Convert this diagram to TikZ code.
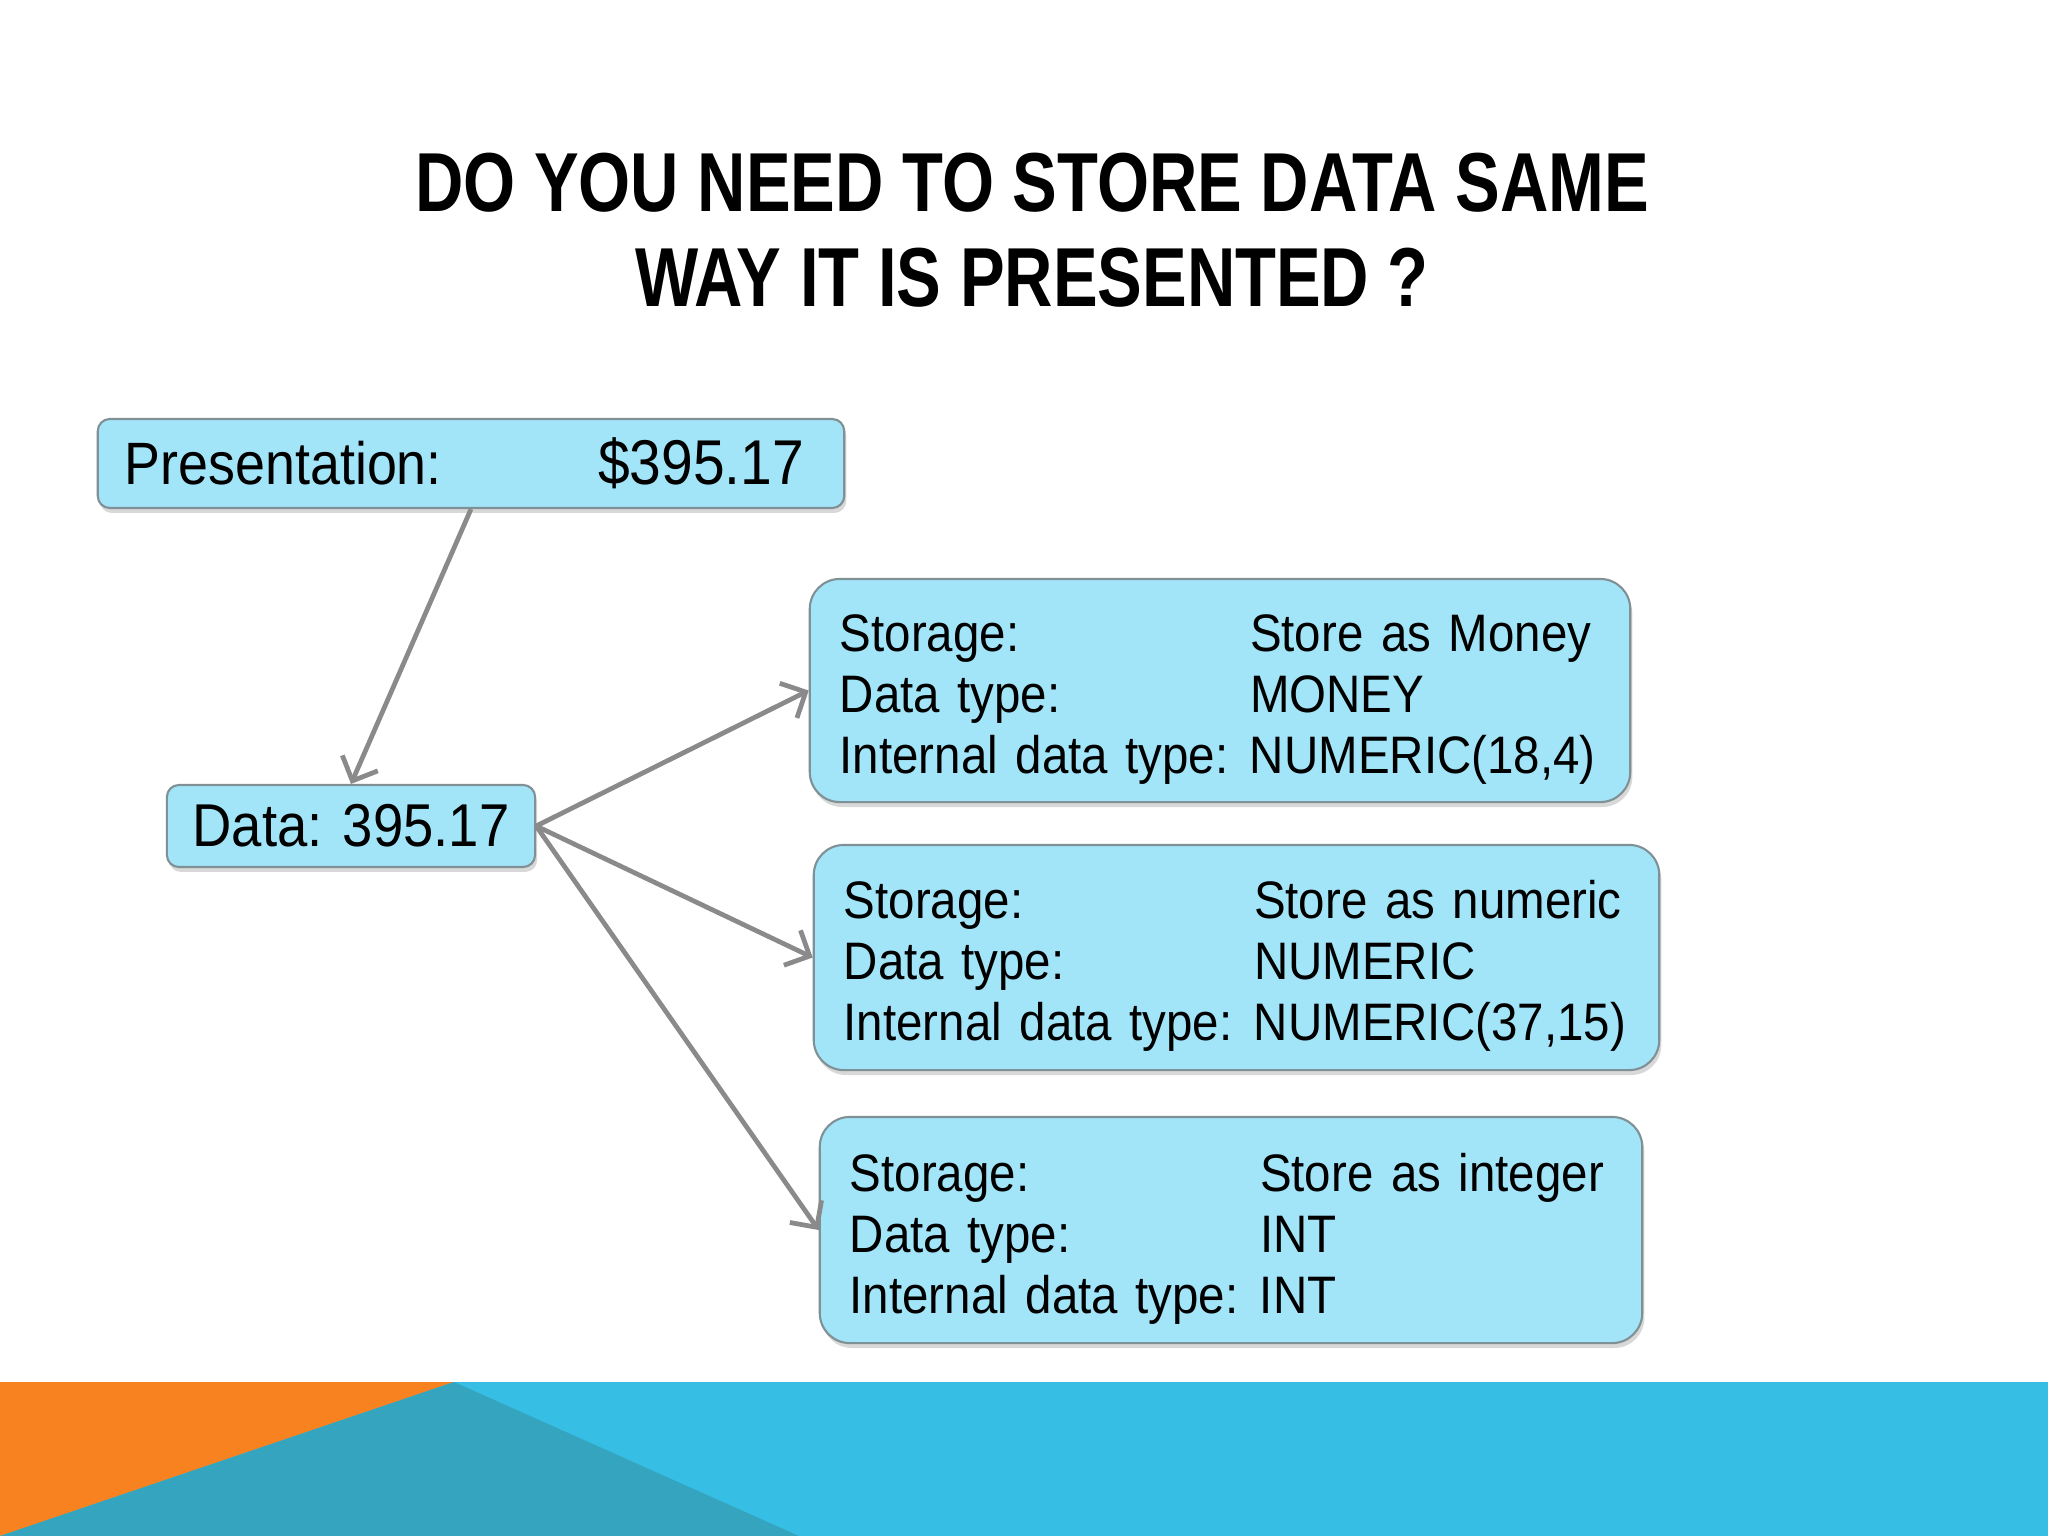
\documentclass[tikz,border=0pt]{standalone}
\usepackage{fontspec}
\setmainfont{Liberation Sans}[FakeStretch=0.9]
\newfontfamily\titlefont{Liberation Sans}[FakeStretch=0.8]
\usetikzlibrary{arrows.meta,shadows}
\definecolor{boxfill}{HTML}{A3E5F8}
\definecolor{boxline}{HTML}{7F9096}
\definecolor{arrowgray}{HTML}{8A8A8A}
\definecolor{bandorange}{HTML}{F7821F}
\definecolor{bandteal}{HTML}{35A4BE}
\definecolor{bandcyan}{HTML}{36BEE5}
\tikzset{
  infobox/.style={draw=boxline, line width=0.6pt, fill=boxfill,
    drop shadow={shadow xshift=0.6pt, shadow yshift=-1.4pt, opacity=0.3},
    inner sep=0pt, font=\fontsize{15}{17.3}\selectfont},
  bigbox/.style={infobox, rounded corners=0.3cm, align=left},
  smallbox/.style={infobox, rounded corners=0.12cm},
  conn/.style={draw=arrowgray, line width=1.35pt,
    -{Straight Barb[length=5.5pt,width=11pt,line width=1.35pt]}},
}
\newcommand{\storagetable}[3]{\raisebox{-0.1cm}[\height][\depth]{\begin{tabular}{@{}p{4.1cm}@{}l@{}}
   Storage: & #1\\
   Data type: & #2\\
   Internal data type: & #3
   \end{tabular}}}
\begin{document}
\begin{tikzpicture}[x=0.01cm,y=-0.01cm]
\useasboundingbox (0,0) rectangle (2048,1536);
\fill[white] (0,0) rectangle (2048,1536);
% bottom band
\fill[bandcyan] (0,1382) rectangle (2048,1536);
\fill[bandorange] (0,1382) -- (454,1382) -- (0,1536) -- cycle;
\fill[bandteal] (454,1382) -- (0,1536) -- (799,1536) -- cycle;
% title
\node[align=center, font=\titlefont\bfseries\fontsize{23.8}{27}\selectfont] (title) at (1032,230)
  {DO YOU NEED TO STORE DATA SAME\\WAY IT IS PRESENTED ?};
% boxes
\node[smallbox, minimum width=7.46cm, minimum height=0.89cm, font=\fontsize{17}{19}\selectfont] (pres) at (471,463.5)
  {\makebox[6.79cm]{Presentation:\hfill{\fontsize{18}{19}\selectfont\$395.17}}\hspace*{0.13cm}};
\node[smallbox, minimum width=3.68cm, minimum height=0.82cm, font=\fontsize{17.2}{19}\selectfont] (data) at (351,826)
  {Data: 395.17};
\node[bigbox, text width=7.6cm, minimum width=8.2cm, minimum height=2.23cm] (money) at (1220,690.5)
  {\storagetable{Store as Money}{MONEY}{NUMERIC(18,4)}};
\node[bigbox, text width=7.85cm, minimum width=8.45cm, minimum height=2.25cm] (numeric) at (1236.5,957.5)
  {\storagetable{Store as numeric}{NUMERIC}{NUMERIC(37,15)}};
\node[bigbox, text width=7.62cm, minimum width=8.22cm, minimum height=2.26cm] (integer) at (1231,1230)
  {\storagetable{Store as integer}{INT}{INT}};
% connectors
\draw[conn] (pres.south) -- (data.north);
\draw[conn] (data.east) -- (money.west);
\draw[conn] (data.east) -- (numeric.west);
\draw[conn] (data.east) -- (integer.west);
\end{tikzpicture}
\end{document}
